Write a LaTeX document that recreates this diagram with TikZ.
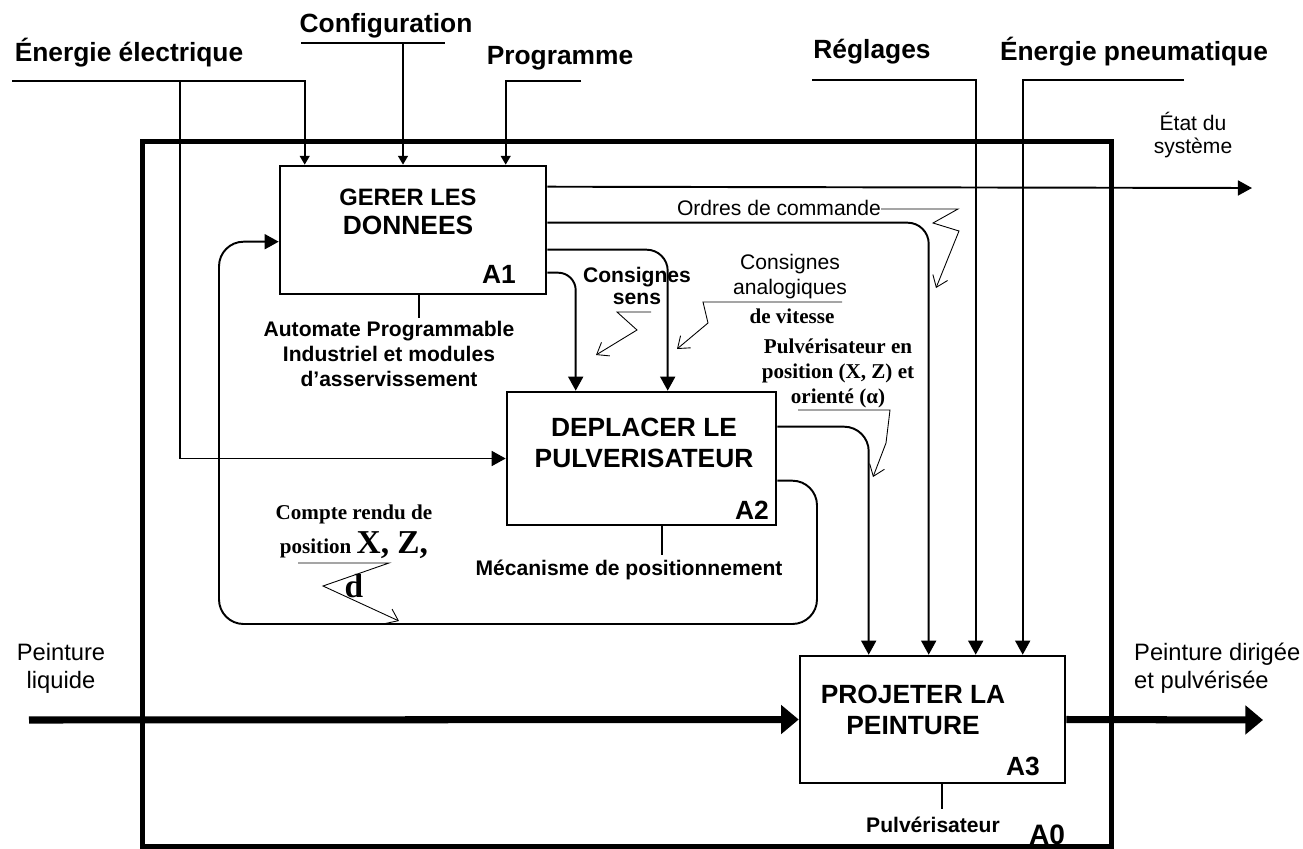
\documentclass[tikz,border=0pt]{standalone}
\usepackage{fontspec}
\setmainfont{Liberation Sans}
\newfontfamily\timesfont{Liberation Serif}
\usetikzlibrary{arrows.meta, positioning, calc}

\begin{document}
\begin{tikzpicture}[
    x=0.02cm, y=-0.02cm,
    frame/.style={rectangle, draw, line width=2.8pt, inner sep=0pt},
    box/.style={rectangle, draw, line width=1.5pt, inner sep=0pt, fill=white},
    ttl/.style={font=\fontsize{15}{17.6}\selectfont\bfseries, align=center},
    boxid/.style={font=\fontsize{15}{17}\selectfont\bfseries},
    head/.style={font=\fontsize{15}{17}\selectfont\bfseries},
    mech/.style={font=\fontsize{12}{14.2}\selectfont\bfseries, align=center},
    note/.style={font=\fontsize{12}{13.3}\selectfont, align=center},
    paint/.style={font=\fontsize{13.5}{15.9}\selectfont},
    serifnote/.style={font=\fontsize{12}{14.2}\selectfont\timesfont\bfseries, align=center},
    flow/.style={line width=1.1pt},
    arrow/.style={flow, -{Triangle[length=8pt, width=8.5pt]}},
    smallarrow/.style={flow, -{Triangle[length=5pt, width=5.5pt]}},
    fat/.style={line width=4pt, -{Triangle[length=10pt, width=16pt]}},
    leader/.style={line width=0.5pt, -{Straight Barb[length=6pt, width=9pt]}},
  ]
  \useasboundingbox (0,0) rectangle (1303,849);

  % A0 frame and activity boxes
  \node[frame, minimum width=19.4cm, minimum height=14.12cm] (a0) at (627,494) {};
  \node[box, minimum width=5.32cm, minimum height=2.56cm] (a1) at (413,230) {};
  \node[box, minimum width=5.38cm, minimum height=2.66cm] (a2) at (641.5,458.5) {};
  \node[box, minimum width=5.3cm, minimum height=2.54cm] (a3) at (932.5,719.5) {};

  % Box titles and numbers
  \node[ttl, font=\fontsize{15}{16.5}\selectfont\bfseries] (a1t) at (408,212)
    {{\fontsize{13.5}{16.5}\selectfont GERER LES}\\DONNEES};
  \node[ttl] (a2t) at (644,443) {DEPLACER LE\\PULVERISATEUR};
  \node[ttl] (a3t) at (913,710) {PROJETER LA\\PEINTURE};
  \node[boxid] (a1id) at (499,274) {A1};
  \node[boxid] (a2id) at (752,510) {A2};
  \node[boxid] (a3id) at (1023,766) {A3};
  \node[boxid, font=\fontsize{16}{18}\selectfont\bfseries] (a0id) at (1047,835) {A0};

  % Mechanisms
  \node[mech] (a1m) at (389,354) {Automate Programmable\\Industriel et modules\\d’asservissement};
  \node[mech] (a2m) at (629,570) {Mécanisme de positionnement};
  \node[mech] (a3m) at (933,825) {Pulvérisateur};
  \draw[flow] ($(a1.south west)+(140,0)$) -- ++(0,23);
  \draw[flow] ($(a2.south west)+(156,0)$) -- ++(0,29);
  \draw[flow] ($(a3.south west)+(143,0)$) -- ++(0,25);

  % Controls from above
  \node[head] (ee) at (129,53) {Énergie électrique};
  \node[head] (cfg) at (386,26) {Configuration};
  \node[head] (prg) at (560,58) {Programme};
  \node[head] (reg) at (872,52) {Réglages};
  \node[head] (pne) at (1134,52) {Énergie pneumatique};

  \coordinate (eeL) at (12,81);
  \coordinate (eeB) at (180,81);
  \coordinate (cfgL) at (301,43);
  \coordinate (cfgR) at (445,43);
  \coordinate (cfgD) at (403,43);
  \coordinate (prgR) at (581,81);
  \coordinate (regL) at (812,80);
  \coordinate (pneR) at (1184,80);

  \draw[smallarrow] (eeL) -| ($(a1.north west)+(26,0)$);
  \draw[arrow] (eeB) |- (a2.west);
  \draw[flow] (cfgL) -- (cfgR);
  \draw[smallarrow] (cfgD) -- (cfgD |- a1.north);
  \draw[smallarrow] (prgR) -| ($(a1.north west)+(227,0)$);
  \draw[arrow] (regL) -| ($(a3.north west)+(177,0)$);
  \draw[arrow] (pneR) -| ($(a3.north west)+(224,0)$);

  % Outputs of A1
  \coordinate (o1) at ($(a1.north east)+(0,22)$);
  \coordinate (o2) at ($(a1.north east)+(0,58)$);
  \coordinate (o3) at ($(a1.north east)+(0,85)$);
  \coordinate (o4) at ($(a1.north east)+(0,108)$);
  \coordinate (etatE) at (1252,188);
  \draw[arrow] (o1) -- (etatE);
  \draw[arrow, rounded corners=12pt] (o2) -| ($(a3.north west)+(130,0)$);
  \draw[arrow, rounded corners=12pt] (o3) -| ($(a2.north west)+(162,0)$);
  \draw[arrow, rounded corners=10pt] (o4) -| ($(a2.north west)+(70,0)$);

  % Outputs of A2, feedback loop
  \coordinate (p1) at ($(a2.north east)+(0,36)$);
  \coordinate (fb1) at ($(a2.north east)+(0,90)$);
  \coordinate (fbR) at (817,624);
  \coordinate (fbL) at (219,624);
  \coordinate (a1in) at ($(a1.north west)+(0,77)$);
  \draw[arrow, rounded corners=14pt] (p1) -| ($(a3.north west)+(70,0)$);
  \draw[arrow, rounded corners=14pt] (fb1) -| (fbR) -- (fbL) |- (a1in);

  % Paint flow
  \coordinate (pIn) at (29,720);
  \coordinate (pOut) at (1263,720);
  \draw[fat] (pIn) -- (a3.west);
  \draw[fat] (a3.east) -- (pOut);
  \node[paint, align=center] (liq) at (61,668) {Peinture\\liquide};
  \node[paint, align=left, anchor=west] (dir) at (1128,668) {Peinture dirigée\\et pulvérisée};

  % Flow labels
  \node[note] (etat) at (1193,135) {État du\\système};
  \node[note] (ordres) at (779,208) {Ordres de commande};
  \node[mech, font=\fontsize{12}{13}\selectfont\bfseries] (sens) at (637,286) {Consignes\\sens};
  \node[note, font=\fontsize{12}{14.2}\selectfont] (an1) at (790,277) {Consignes\\analogiques};
  \node[serifnote] (an2) at (792,316) {de vitesse};
  \node[serifnote] (pulv) at (838,373) {Pulvérisateur en\\position (X, Z) et\\orienté (α)};
  \node[serifnote] (crt1) at (354,514) {Compte rendu de};
  \node[serifnote] (crt2) at (354,545) {position {\fontsize{19}{21}\selectfont X, Z,}};
  \node[serifnote, font=\fontsize{19}{21}\selectfont\timesfont\bfseries] (crt3) at (354,586) {d};

  % Leaders
  \draw[leader] (881,209) -- (958,209) -- (933,223) -- (959,231) -- (936,288);
  \draw[leader] (651,312) -- (617,312) -- (637,330) -- (596,355);
  \draw[leader] (842,302) -- (703,302) -- (708,323) -- (677,349);
  \draw[leader] (798,410) -- (890,410) -- (886,443) -- (873,477);
  \draw[leader] (298,563) -- (389,563) -- (323,586) -- (399,621);
\end{tikzpicture}
\end{document}
